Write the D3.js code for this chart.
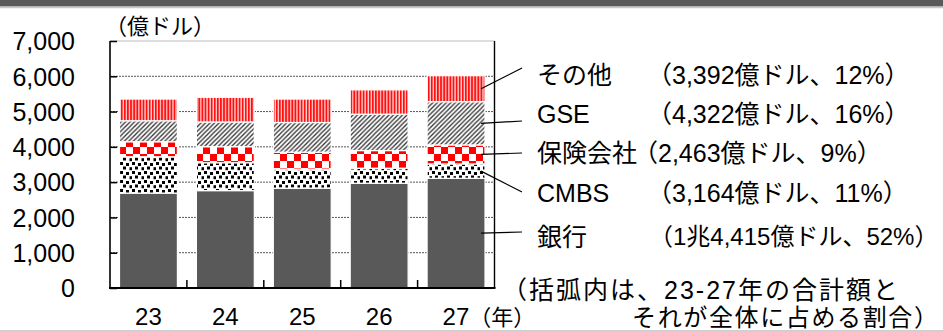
<!DOCTYPE html>
<html><head><meta charset="utf-8">
<script src="https://cdn.jsdelivr.net/npm/d3@7"></script>
<style>
html,body{margin:0;padding:0;background:#fff;}
svg{display:block;}
text{font-family:"Liberation Sans",Arial,"Noto Sans CJK JP",sans-serif;fill:#000;}
</style></head>
<body>
<svg id="c" width="943" height="332"></svg>
<script>
// ---- data ----
const years = ["23", "24", "25", "26", "27"];
const seriesKeys = ["bank", "cmbs", "insurance", "gse", "other"];
const seriesNames = ["銀行", "CMBS", "保険会社", "GSE", "その他"];
const bank = [2690, 2760, 2830, 2970, 3110];
const cmbs = [1030, 790, 540, 425, 405];
const insurance = [425, 455, 480, 500, 540];
const gse = [595, 700, 840, 1030, 1225];
const other = [615, 700, 665, 690, 737];
const legendValues = ["（1兆4,415億ドル、52%）", "（3,164億ドル、11%）", "（2,463億ドル、9%）", "（4,322億ドル、16%）", "（3,392億ドル、12%）"];
const yTicks = [0, 1000, 2000, 3000, 4000, 5000, 6000, 7000];
const unitLabel = "（億ドル）";
const yearSuffix = "（年）";
const noteLines = ["（括弧内は、23-27年の合計額と", "それが全体に占める割合）"];

// ---- layout ----
const svg = d3.select("#c");
const L = 110, R = 494.5, T = 41, B = 288;
const rows = years.map((y, i) => ({year: y, bank: bank[i], cmbs: cmbs[i], insurance: insurance[i], gse: gse[i], other: other[i]}));
const stack = d3.stack().keys(seriesKeys)(rows);

const x = d3.scaleBand().domain(years).range([L, R]).paddingInner(0.247).paddingOuter(0.1235);
const y = d3.scaleLinear().domain([0, 7000]).range([B, T]);

// patterns
const defs = svg.append("defs");
const pc = defs.append("pattern").attr("id", "p-cmbs").attr("patternUnits", "userSpaceOnUse").attr("width", 12).attr("height", 9);
pc.append("rect").attr("width", 12).attr("height", 9).attr("fill", "#fff");
[[0,0],[6,1],[3,4.5],[9.5,5.2]].forEach(([a,b]) => pc.append("rect").attr("x", a).attr("y", b).attr("width", 3).attr("height", 3).attr("fill", "#000"));
const pk = defs.append("pattern").attr("id", "p-ins").attr("patternUnits", "userSpaceOnUse").attr("width", 14).attr("height", 14);
pk.append("rect").attr("width", 14).attr("height", 14).attr("fill", "#fff");
pk.append("rect").attr("x", 0).attr("y", 0).attr("width", 7).attr("height", 7).attr("fill", "#ff0000");
pk.append("rect").attr("x", 7).attr("y", 7).attr("width", 7).attr("height", 7).attr("fill", "#ff0000");
const pg = defs.append("pattern").attr("id", "p-gse").attr("patternUnits", "userSpaceOnUse").attr("width", 4.5).attr("height", 4.5);
pg.append("rect").attr("width", 4.5).attr("height", 4.5).attr("fill", "#fff");
pg.append("path").attr("d", "M-1,1 L1,-1 M0,4.5 L4.5,0 M3.5,5.5 L5.5,3.5").attr("stroke", "#333").attr("stroke-width", 1.3);
const ps = defs.append("pattern").attr("id", "p-other").attr("patternUnits", "userSpaceOnUse").attr("width", 3.1).attr("height", 4);
ps.append("rect").attr("width", 3.1).attr("height", 4).attr("fill", "#ffd0d0");
ps.append("rect").attr("width", 1.8).attr("height", 4).attr("fill", "#ff1010");

const fills = {bank: "#595959", cmbs: "url(#p-cmbs)", insurance: "url(#p-ins)", gse: "url(#p-gse)", other: "url(#p-other)"};

// top band
svg.append("rect").attr("x", 0).attr("y", 0).attr("width", 943).attr("height", 6.5).attr("fill", "#595959");
svg.append("line").attr("x1", 0).attr("x2", 943).attr("y1", 7.5).attr("y2", 7.5).attr("stroke", "#c8c8c8").attr("stroke-width", 1.5);

// gridlines
svg.append("g").selectAll("line").data(yTicks.filter(v => v > 0 && v < 7000)).join("line")
  .attr("x1", L).attr("x2", R).attr("y1", d => y(d)).attr("y2", d => y(d))
  .attr("stroke", "#555").attr("stroke-width", 1).attr("stroke-dasharray", "2,1");
svg.append("line").attr("x1", L).attr("x2", R).attr("y1", T).attr("y2", T).attr("stroke", "#bbb").attr("stroke-width", 1);

// bars
svg.append("g").selectAll("g").data(stack).join("g")
  .attr("fill", d => fills[d.key])
  .selectAll("rect").data(d => d).join("rect")
  .attr("x", d => x(d.data.year)).attr("width", x.bandwidth())
  .attr("y", d => y(d[1])).attr("height", d => y(d[0]) - y(d[1]))
  .attr("stroke", "#fff").attr("stroke-width", 1.2);

// y axis
const ya = svg.append("g").attr("transform", `translate(${L},0)`)
  .call(d3.axisLeft(y).tickValues(yTicks).tickFormat(d3.format(",")).tickSizeInner(-7).tickSizeOuter(0).tickPadding(35));
ya.select(".domain").remove();
ya.selectAll(".tick line").attr("stroke", "#000").attr("stroke-width", 1.5);
ya.selectAll(".tick text").attr("font-size", 25).attr("font-family", "Liberation Sans, Arial, sans-serif").attr("dy", "0.35em");
svg.append("line").attr("x1", L).attr("x2", L).attr("y1", T).attr("y2", B).attr("stroke", "#000").attr("stroke-width", 1.6);
svg.append("line").attr("x1", R).attr("x2", R).attr("y1", T).attr("y2", B).attr("stroke", "#000").attr("stroke-width", 1.4);

// x axis
const xa = svg.append("g").attr("transform", `translate(0,${B})`)
  .call(d3.axisBottom(x).tickSize(0).tickPadding(29));
xa.select(".domain").remove();
xa.selectAll(".tick text").attr("font-size", 24).attr("font-family", "Liberation Sans, Arial, sans-serif").attr("dy", "0.35em");
const lastTick = xa.selectAll(".tick text").filter(d => d === years[years.length - 1]);
lastTick.attr("text-anchor", "start").attr("x", -13.5);
lastTick.append("tspan").attr("font-family", "Noto Sans CJK JP, sans-serif").attr("font-size", 22).attr("dx", 0).text(yearSuffix);
svg.append("g").selectAll("line").data(years.slice(1)).join("line")
  .attr("x1", d => x(d) - x.step() * x.paddingInner() / 2).attr("x2", d => x(d) - x.step() * x.paddingInner() / 2)
  .attr("y1", B).attr("y2", B - 8).attr("stroke", "#000").attr("stroke-width", 1.5);
svg.append("line").attr("x1", L - 1).attr("x2", R + 1).attr("y1", B).attr("y2", B).attr("stroke", "#000").attr("stroke-width", 2.2);

// unit label
svg.append("text").attr("x", 105).attr("y", 26).attr("dy", "0.35em").attr("font-size", 22)
  .attr("font-family", "Noto Sans CJK JP, sans-serif").text(unitLabel);

// legend with leader lines
const lastX = x(years[years.length - 1]) + x.bandwidth() / 2;
const labelY = [237, 193, 153, 114, 75];
const lineEndY = [232, 192, 153, 121, 68];
const valueX = [649, 647, 633, 647, 647];
const valueSize = [24, 25, 25, 25, 25];
const lastStack = stack.map(s => s[s.length - 1]);
const lg = svg.append("g");
seriesNames.forEach((name, i) => {
  const seg = lastStack[i];
  lg.append("line").attr("x1", lastX + 25).attr("y1", y((seg[0] + seg[1]) / 2))
    .attr("x2", 522).attr("y2", lineEndY[i]).attr("stroke", "#000").attr("stroke-width", 1.2);
  lg.append("text").attr("x", 537).attr("y", labelY[i]).attr("dy", "0.35em").attr("font-size", 25).text(name);
  lg.append("text").attr("x", valueX[i]).attr("y", labelY[i]).attr("dy", "0.35em").attr("font-size", valueSize[i]).text(legendValues[i]);
});

// note
svg.append("text").attr("x", 502).attr("y", 290).attr("dy", "0.35em").attr("font-size", 25)
  .attr("textLength", 396).attr("lengthAdjust", "spacing").text(noteLines[0]);
svg.append("text").attr("x", 632).attr("y", 318).attr("dy", "0.35em").attr("font-size", 24)
  .attr("textLength", 306).attr("lengthAdjust", "spacing").text(noteLines[1]);

// bottom line
svg.append("line").attr("x1", 0).attr("x2", 943).attr("y1", 331).attr("y2", 331).attr("stroke", "#c0c0c0").attr("stroke-width", 1.5);
</script>
</body></html>
